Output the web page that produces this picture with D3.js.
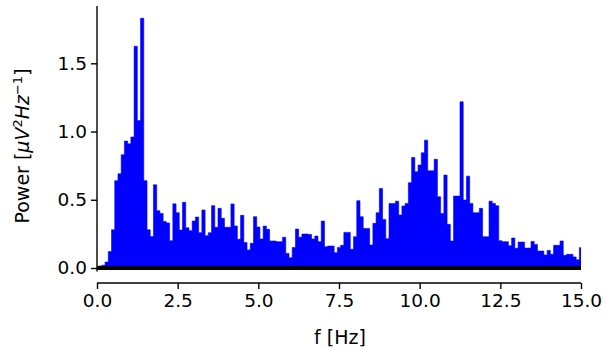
<!DOCTYPE html>
<html>
<head>
<meta charset="utf-8">
<script src="https://cdn.jsdelivr.net/npm/d3@7"></script>
<style>
  html, body { margin: 0; padding: 0; background: #fff; }
  svg { display: block; }
  text { font-family: "DejaVu Sans", sans-serif; fill: #000; }
</style>
</head>
<body>
<svg id="chart" width="606" height="349"></svg>
<script>
// Frequency step between spectral bins [Hz]
const freqStep = 0.1;
// Power values [µV²/Hz] per bin, bin k at f = k * 0.1 Hz (0 … 15 Hz)
const power = [
  0.01, 0.015, 0.02, 0.044, 0.12, 0.28, 0.64, 0.69, 0.83, 0.93,
  0.91, 0.96, 1.625, 1.08, 1.83, 0.64, 0.28, 0.23, 0.61, 0.42,
  0.40, 0.34, 0.33, 0.20, 0.47, 0.405, 0.278, 0.481, 0.295, 0.273,
  0.344, 0.373, 0.259, 0.425, 0.237, 0.259, 0.457, 0.298, 0.437, 0.364,
  0.298, 0.298, 0.469, 0.308, 0.21, 0.386, 0.186, 0.132, 0.181, 0.376,
  0.30, 0.212, 0.307, 0.283, 0.198, 0.198, 0.193, 0.193, 0.225, 0.107,
  0.075, 0.15, 0.285, 0.225, 0.249, 0.249, 0.246, 0.212, 0.234, 0.193,
  0.344, 0.156, 0.161, 0.161, 0.112, 0.151, 0.166, 0.261, 0.261, 0.137,
  0.229, 0.493, 0.376, 0.29, 0.29, 0.168, 0.327, 0.405, 0.583, 0.356,
  0.215, 0.473, 0.473, 0.49, 0.388, 0.454, 0.473, 0.625, 0.81, 0.705,
  0.754, 0.844, 0.937, 0.712, 0.712, 0.796, 0.522, 0.40, 0.681, 0.32,
  0.198, 0.527, 0.527, 1.218, 0.498, 0.673, 0.473, 0.405, 0.405, 0.437,
  0.229, 0.229, 0.49, 0.473, 0.456, 0.20, 0.193, 0.193, 0.163, 0.22,
  0.144, 0.19, 0.19, 0.146, 0.146, 0.195, 0.173, 0.124, 0.124, 0.095,
  0.129, 0.10, 0.166, 0.166, 0.198, 0.093, 0.10, 0.10, 0.081, 0.061,
  0.149
];
const xTicks = [0, 2.5, 5, 7.5, 10, 12.5, 15];
const yTicks = [0, 0.5, 1.0, 1.5];
const xDomain = [0, 15];
const yDomain = [-0.025, 1.92];

const data = power.map((p, i) => ({ f: +(i * freqStep).toFixed(2), p }));

const svg = d3.select("#chart");
const mLeft = 97, mRight = 581, mTop = 6, mBottom = 271.4;
const x = d3.scaleLinear().domain(xDomain).range([mLeft, mRight]);
const y = d3.scaleLinear().domain(yDomain).range([mBottom, mTop]);

svg.append("defs").append("clipPath").attr("id", "clip")
  .append("rect").attr("x", mLeft).attr("y", 0).attr("width", mRight - mLeft).attr("height", 349);

const area = d3.area()
  .curve(d3.curveStep)
  .x(d => x(d.f))
  .y0(y(0))
  .y1(d => y(d.p));

svg.append("path")
  .datum(data)
  .attr("clip-path", "url(#clip)")
  .attr("d", area)
  .attr("fill", "#0000ff")
  .attr("stroke", "#0000ff")
  .attr("stroke-width", 0.6);

// zero baseline
svg.append("line")
  .attr("x1", x(0)).attr("x2", x(15))
  .attr("y1", y(0)).attr("y2", y(0))
  .attr("stroke", "#000").attr("stroke-width", 4.2);

const tickFont = "18.5px";

// y axis
const yAxis = d3.axisLeft(y).tickValues(yTicks).tickFormat(d3.format(".1f")).tickSizeOuter(0).tickSize(6).tickPadding(4);
const gy = svg.append("g").attr("transform", `translate(${mLeft},0)`).call(yAxis);
gy.select(".domain").remove();
gy.append("line").attr("x1", 0).attr("x2", 0).attr("y1", mTop).attr("y2", mBottom)
  .attr("stroke", "#000").attr("stroke-width", 1.4);
gy.selectAll(".tick line").attr("stroke", "#000").attr("stroke-width", 1.4);
gy.selectAll(".tick text").style("font-size", tickFont).attr("fill", "#000");

// x axis (offset below)
const xAxisY = 283;
const xAxis = d3.axisBottom(x).tickValues(xTicks).tickFormat(d3.format(".1f")).tickSizeOuter(0).tickSize(6).tickPadding(5);
const gx = svg.append("g").attr("transform", `translate(0,${xAxisY})`).call(xAxis);
gx.select(".domain").remove();
gx.append("line").attr("x1", mLeft).attr("x2", mRight).attr("y1", 0).attr("y2", 0)
  .attr("stroke", "#000").attr("stroke-width", 1.4);
gx.selectAll(".tick line").attr("stroke", "#000").attr("stroke-width", 1.4);
gx.selectAll(".tick text").style("font-size", tickFont).attr("fill", "#000");

// axis labels
svg.append("text")
  .attr("x", (mLeft + mRight) / 2 + 1).attr("y", 344)
  .attr("text-anchor", "middle")
  .style("font-size", "19px")
  .text("f [Hz]");

const yl = svg.append("text")
  .attr("transform", "translate(29,146) rotate(-90)")
  .attr("text-anchor", "middle")
  .style("font-size", "19px");
yl.append("tspan").text("Power [");
yl.append("tspan").attr("font-style", "italic").text("μV");
yl.append("tspan").attr("font-size", "13px").attr("dy", -7).text("2");
yl.append("tspan").attr("font-style", "italic").attr("dy", 7).text("Hz");
yl.append("tspan").attr("font-size", "13px").attr("dy", -7).text("−1");
yl.append("tspan").attr("dy", 7).text("]");
</script>
</body>
</html>
